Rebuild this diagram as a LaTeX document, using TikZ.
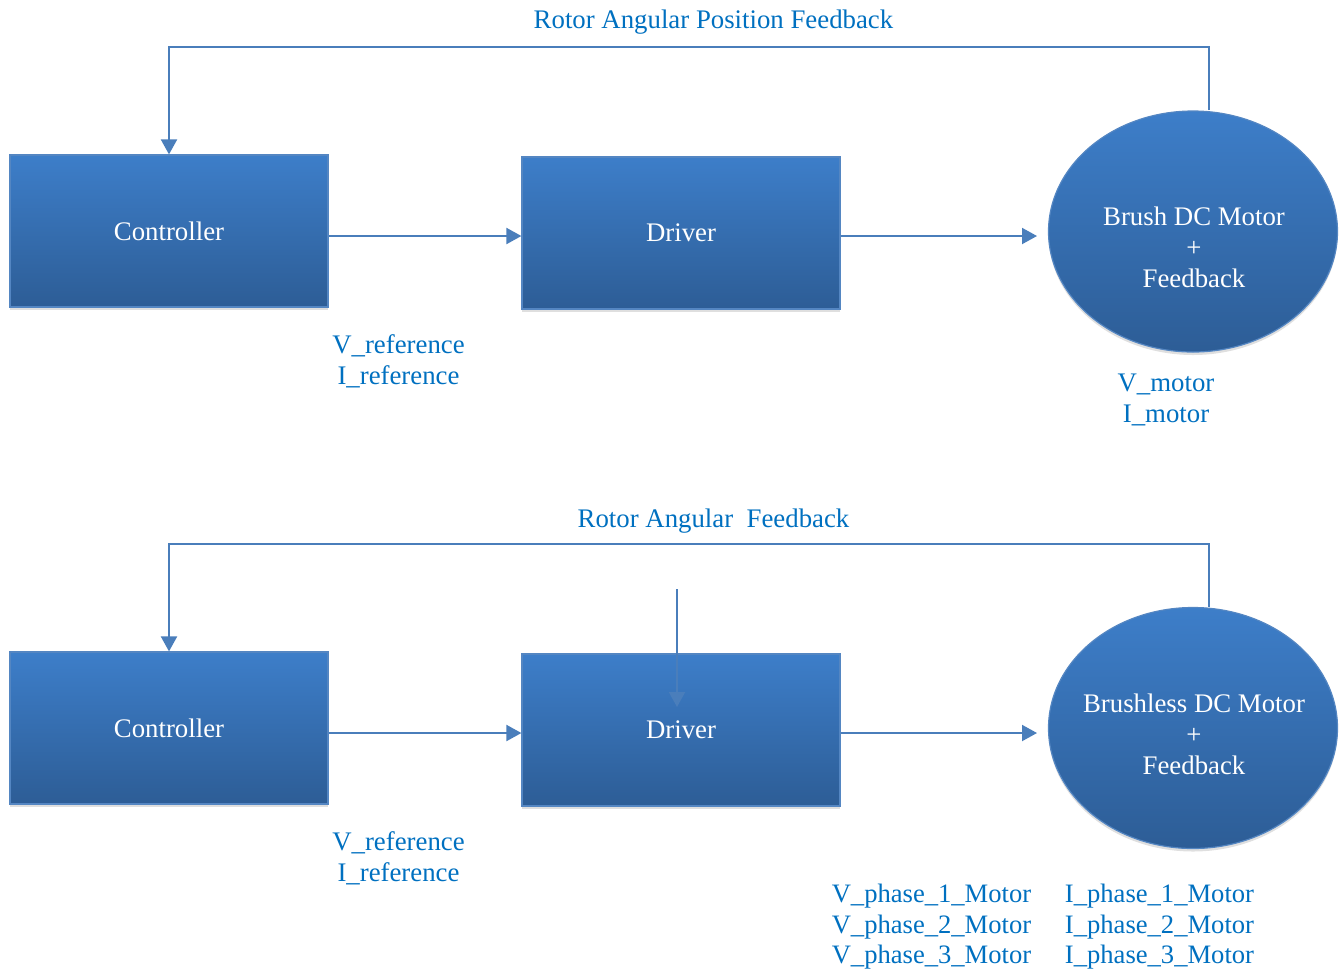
\documentclass[tikz,border=0pt]{standalone}
\usepackage{fontspec}
\setmainfont{Liberation Serif}
\usetikzlibrary{shapes.geometric,arrows.meta,shadows}
\definecolor{boxtop}{RGB}{61,126,201}
\definecolor{boxbottom}{RGB}{45,93,150}
\definecolor{boxedge}{RGB}{84,134,194}
\definecolor{linecol}{RGB}{74,126,187}
\definecolor{labelcol}{RGB}{0,112,192}

\begin{document}
\begin{tikzpicture}[x=0.5pt, y=-0.5pt,
    block/.style={rectangle, draw=boxedge, line width=0.6pt, top color=boxtop, bottom color=boxbottom,
        minimum width=159pt, minimum height=76pt, text=white, font=\fontsize{13.4}{15.5}\selectfont,
        drop shadow={shadow xshift=0pt, shadow yshift=-1.5pt, opacity=0.25}},
    motor/.style={ellipse, draw=boxedge, line width=0.6pt, top color=boxtop, bottom color=boxbottom,
        minimum width=144.5pt, minimum height=120.5pt, inner sep=0pt,
        drop shadow={shadow xshift=0pt, shadow yshift=-1.5pt, opacity=0.25}},
    motortext/.style={text=white, align=center, inner sep=0pt, font=\fontsize{13.4}{15.5}\selectfont},
    sig/.style={text=labelcol, align=center, inner sep=0pt, font=\fontsize{13.4}{15.5}\selectfont},
    phase/.style={text=labelcol, align=left, inner sep=0pt, font=\fontsize{13.3}{15.25}\selectfont},
    flow/.style={linecol, line width=1pt, -{Triangle[length=7.5pt,width=8pt]}}]

    \useasboundingbox (0,0) rectangle (1339,971);

    \node[block] (ctrlA) at (169,231) {Controller};
    \node[block] (drvA) at (681,233) {Driver};
    \node[motor] (motA) at (1193,231.5) {};
    \node[motortext] (motAtext) at (1194,247) {Brush DC Motor\\+\\Feedback};

    \node[sig] (fbAlabel) at (713.5,22) {Rotor Angular Position Feedback};
    \node[sig] (refA) at (398.5,361) {V\_reference\\I\_reference};
    \node[sig] (outA) at (1166,400) {V\_motor\\I\_motor};

    \coordinate (fbA) at (1209,47);
    \coordinate (inA) at (1037,236);
    \draw[flow] (fbA |- motA.north) -- (fbA) -| (ctrlA.north);
    \draw[flow] ([yshift=-2.5pt]ctrlA.east) -- ([yshift=-1.5pt]drvA.west);
    \draw[flow] ([yshift=-1.5pt]drvA.east) -- (inA);

    \node[block] (ctrlB) at (169,728) {Controller};
    \node[block] (drvB) at (681,730) {Driver};
    \node[motor] (motB) at (1193,728) {};
    \node[motortext] (motBtext) at (1194,734) {Brushless DC Motor\\+\\Feedback};

    \node[sig] (fbBlabel) at (713.5,521) {Rotor Angular\ \ Feedback};
    \node[sig] (refB) at (398.5,858) {V\_reference\\I\_reference};
    \node[phase] (vphB) at (931.5,927) {V\_phase\_1\_Motor\\V\_phase\_2\_Motor\\V\_phase\_3\_Motor};
    \node[phase] (iphB) at (1159.5,927) {I\_phase\_1\_Motor\\I\_phase\_2\_Motor\\I\_phase\_3\_Motor};

    \coordinate (fbB) at (1209,544);
    \coordinate (inB) at (1037,733);
    \coordinate (vinB) at (677,589);
    \coordinate (vtipB) at (677,707);
    \draw[flow] (fbB |- motB.north) -- (fbB) -| (ctrlB.north);
    \draw[flow] ([yshift=-2.5pt]ctrlB.east) -- ([yshift=-1.5pt]drvB.west);
    \draw[flow] ([yshift=-1.5pt]drvB.east) -- (inB);
    \draw[flow] (vinB) -- (vtipB);

\end{tikzpicture}
\end{document}
